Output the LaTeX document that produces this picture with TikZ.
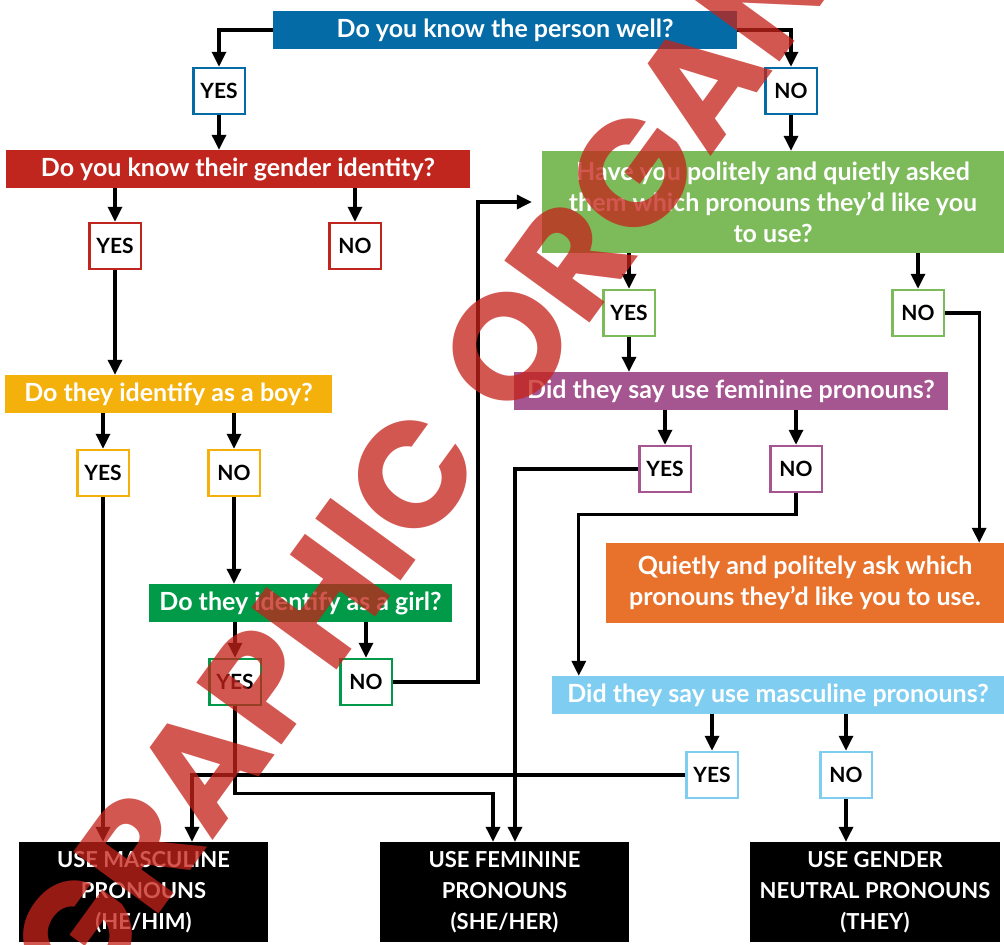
\documentclass[tikz,border=0pt]{standalone}
\usepackage{fontspec}
\setmainfont{Lato}
\newfontfamily\wmfont{Poppins}
\usetikzlibrary{arrows.meta,calc}
\definecolor{cBlue}{HTML}{046BA6}
\definecolor{cRed}{HTML}{C0261E}
\definecolor{cGold}{HTML}{F5B10B}
\definecolor{cGreen}{HTML}{009A48}
\definecolor{cLGreen}{HTML}{7CBA5A}
\definecolor{cPurple}{HTML}{A5558F}
\definecolor{cOrange}{HTML}{E8722C}
\definecolor{cSky}{HTML}{7FCEF2}
\definecolor{cMark}{RGB}{197,35,26}
\begin{document}
\begin{tikzpicture}[x=1pt,y=-1pt,
  qbox/.style={rectangle, inner sep=0pt, text=white, align=center,
    font=\bfseries\fontsize{25}{31}\selectfont},
  abox/.style={rectangle, fill=white, line width=2.5pt, minimum width=51.5pt,
    minimum height=46pt, inner sep=0pt, font=\bfseries\fontsize{21}{25}\selectfont},
  rbox/.style={rectangle, fill=black, text=white, minimum width=249pt,
    minimum height=100pt, inner sep=0pt, align=center,
    font=\bfseries\fontsize{22}{31}\selectfont},
  conn/.style={line width=3.3pt, -{Triangle[length=15pt,width=14pt]}},
  wmtext/.style={rotate=54, inner sep=0pt, text=cMark, opacity=0.76,
    font=\wmfont\bfseries\fontsize{150}{150}\selectfont}
]
\useasboundingbox (0,0) rectangle (1004,945);
\fill[white] (0,0) rectangle (1004,945);

% question boxes
\node[qbox, fill=cBlue, minimum width=464pt, minimum height=38pt] (q1) at (505,30) {Do you know the person well?};
\node[qbox, fill=cRed, minimum width=464pt, minimum height=38pt] (q2) at (238,169) {Do you know their gender identity?};
\node[qbox, fill=cGold, minimum width=327pt, minimum height=38pt] (q3) at (168.5,394) {Do they identify as a boy?};
\node[qbox, fill=cGreen, minimum width=303pt, minimum height=38pt] (q4) at (300.5,603) {Do they identify as a girl?};
\node[qbox, fill=cLGreen, minimum width=462pt, minimum height=102pt] (q5) at (773,202) {Have you politely and quietly asked\\them which pronouns they'd like you\\to use?};
\node[qbox, fill=cPurple, minimum width=434pt, minimum height=38pt] (q6) at (731,391) {Did they say use feminine pronouns?};
\node[qbox, fill=cOrange, minimum width=398pt, minimum height=80pt] (q7) at (805,583) {Quietly and politely ask which\\pronouns they'd like you to use.};
\node[qbox, fill=cSky, minimum width=452pt, minimum height=38pt] (q8) at (778,695) {Did they say use masculine pronouns?};

% answer boxes
\node[abox, draw=cBlue] (y1) at (219,91) {YES};
\node[abox, draw=cBlue] (n1) at (791,91) {NO};
\node[abox, draw=cRed] (y2) at (115,246) {YES};
\node[abox, draw=cRed] (n2) at (355,246) {NO};
\node[abox, draw=cGold] (y3) at (103,473) {YES};
\node[abox, draw=cGold] (n3) at (234,473) {NO};
\node[abox, draw=cGreen] (y4) at (235,682) {YES};
\node[abox, draw=cGreen] (n4) at (366,682) {NO};
\node[abox, draw=cLGreen] (y5) at (629,313) {YES};
\node[abox, draw=cLGreen] (n5) at (918,313) {NO};
\node[abox, draw=cPurple] (y6) at (665,469) {YES};
\node[abox, draw=cPurple] (n6) at (796,469) {NO};
\node[abox, draw=cSky] (y7) at (712,775) {YES};
\node[abox, draw=cSky] (n7) at (846,775) {NO};

% results
\node[rbox] (r1) at (143.5,892) {USE MASCULINE\\PRONOUNS\\(HE/HIM)};
\node[rbox] (r2) at (504.5,892) {USE FEMININE\\PRONOUNS\\(SHE/HER)};
\node[rbox, minimum width=250pt] (r3) at (875,892) {USE GENDER\\NEUTRAL PRONOUNS\\(THEY)};

% connectors
\draw[conn] (q1.west) -| (y1.north);
\draw[conn] (q1.east) -| (n1.north);
\draw[conn] (y1.south) -- (y1.south |- q2.north);
\draw[conn] (y2.north |- q2.south) -- (y2.north);
\draw[conn] (n2.north |- q2.south) -- (n2.north);
\draw[conn] (y2.south) -- (y2.south |- q3.north);
\draw[conn] (y3.north |- q3.south) -- (y3.north);
\draw[conn] (n3.north |- q3.south) -- (n3.north);
\draw[conn] (n3.south) -- (n3.south |- q4.north);
\draw[conn] (y4.north |- q4.south) -- (y4.north);
\draw[conn] (n4.north |- q4.south) -- (n4.north);
\draw[conn, shorten >=10pt] (n4.east) -- ++(85,0) |- (q5.west);
\draw[conn] (n1.south) -- (n1.south |- q5.north);
\draw[conn] (y5.north |- q5.south) -- (y5.north);
\draw[conn] (n5.north |- q5.south) -- (n5.north);
\draw[conn] (y5.south) -- (y5.south |- q6.north);
\draw[conn] (y6.north |- q6.south) -- (y6.north);
\draw[conn] (n6.north |- q6.south) -- (n6.north);
\draw[conn] (n5.east) -| ([xshift=-25pt]q7.north east);
\draw[conn] (n6.south) -- ++(0,21) -| ([xshift=27pt]q8.north west);
\draw[conn] (y7.north |- q8.south) -- (y7.north);
\draw[conn] (n7.north |- q8.south) -- (n7.north);
\draw[conn] (n7.south) -- (n7.south |- r3.north);
\draw[conn] (y3.south) -- (y3.south |- r1.north);
\draw[conn] (y7.west) -| ([xshift=48.5pt]r1.north);
\draw[conn] (y4.south) -- ++(0,87) -| ([xshift=-11.5pt]r2.north);
\draw[conn] (y6.west) -| ([xshift=10.5pt]r2.north);

% watermark
\begin{scope}
\clip (0,0) rectangle (1004,945);
\node[wmtext, anchor=base east] (wm1) at (489,460) {GRAPHIC};
\node[wmtext, anchor=base west] (wm2) at (515,426) {ORGANIZER};
\end{scope}
\end{tikzpicture}
\end{document}
